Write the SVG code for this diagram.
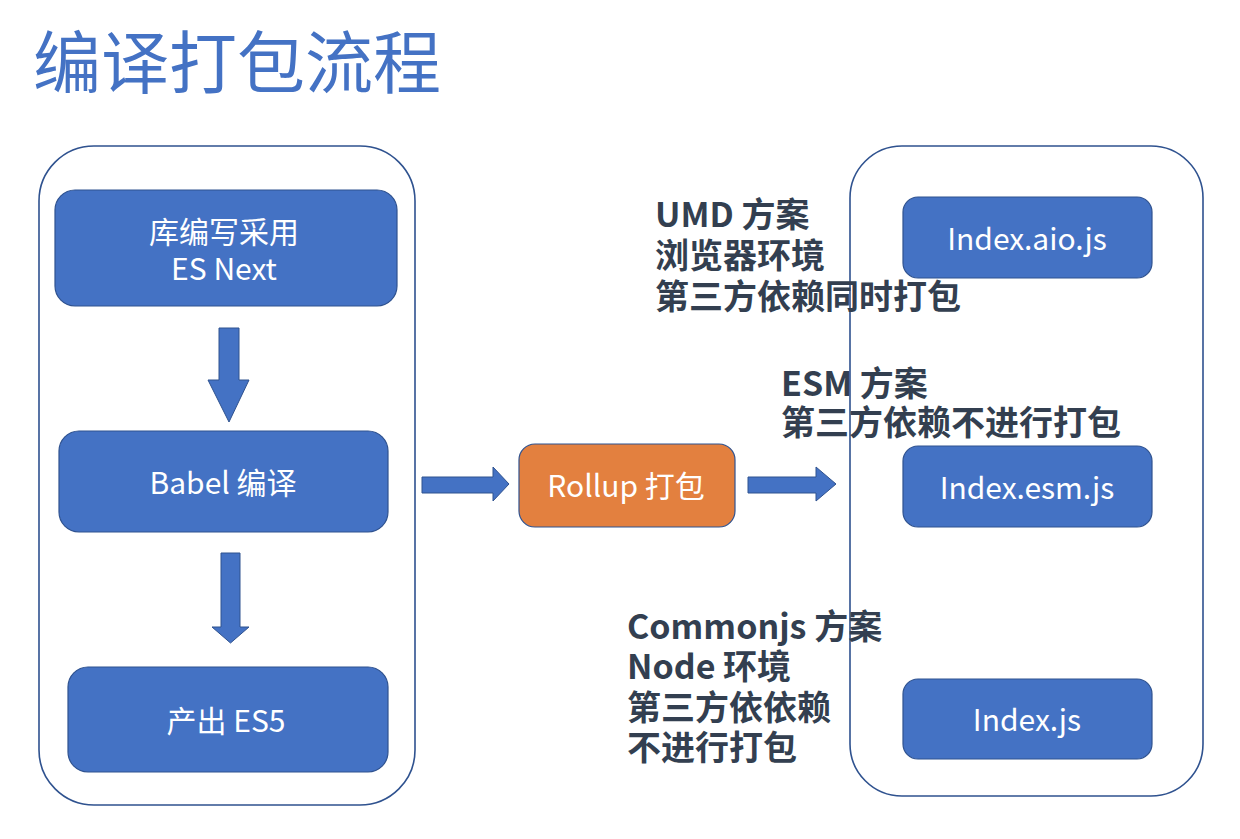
<svg xmlns="http://www.w3.org/2000/svg" width="1240" height="839" viewBox="0 0 1240 839">
  <style>
    .container { fill: #ffffff; stroke: #2F528F; stroke-width: 1.6; }
    .box { fill: #4472C4; stroke: #2F528F; stroke-width: 1.2; }
    .orange { fill: #E3803F; stroke: #2F528F; stroke-width: 1.2; }
    .arrow { fill: #4472C4; stroke: #2F528F; stroke-width: 1; }
    .btext { font-family: "Noto Sans CJK SC", "Noto Sans", sans-serif; font-size: 30px; fill: #ffffff; text-anchor: middle; dominant-baseline: central; }
    .label { font-family: "Noto Sans CJK SC", "Noto Sans", sans-serif; font-size: 34px; font-weight: bold; fill: #333F50; dominant-baseline: central; }
    .title { font-family: "Noto Sans CJK SC", sans-serif; font-size: 68px; fill: #4472C4; dominant-baseline: central; }
  </style>
  <rect width="1240" height="839" fill="#ffffff"/>
  <text class="title" x="33" y="58">编译打包流程</text>

  <g id="left-container"><rect class="container" x="39" y="146" width="376" height="659" rx="55"/></g>
  <g id="right-container"><rect class="container" x="850" y="146" width="353" height="650" rx="52"/></g>

  <g id="node-esnext">
    <rect class="box" x="55" y="190" width="342" height="116" rx="20"/>
    <text class="btext"><tspan x="224" y="230">库编写采用</tspan><tspan x="224" y="267">ES Next</tspan></text>
  </g>
  <g id="node-babel">
    <rect class="box" x="59" y="431" width="329" height="101" rx="20"/>
    <text class="btext" x="223" y="481">Babel 编译</text>
  </g>
  <g id="node-es5">
    <rect class="box" x="68" y="667" width="320" height="105" rx="20"/>
    <text class="btext" x="226" y="719">产出 ES5</text>
  </g>
  <g id="node-rollup">
    <rect class="orange" x="519" y="444" width="216" height="83" rx="16"/>
    <text class="btext" x="626" y="484">Rollup 打包</text>
  </g>
  <g id="node-aio">
    <rect class="box" x="903" y="197" width="249" height="81" rx="15"/>
    <text class="btext" x="1027" y="237">Index.aio.js</text>
  </g>
  <g id="node-esm">
    <rect class="box" x="903" y="446" width="249" height="81" rx="15"/>
    <text class="btext" x="1027" y="486">Index.esm.js</text>
  </g>
  <g id="node-cjs">
    <rect class="box" x="903" y="679" width="249" height="80" rx="15"/>
    <text class="btext" x="1027" y="718">Index.js</text>
  </g>

  <g id="connectors">
    <polygon class="arrow" points="219,328 239,328 239,380 249,380 229,422 208,380 219,380"/>
    <polygon class="arrow" points="221,553 240,553 240,627 249,627 230.5,643 212,627 221,627"/>
    <polygon class="arrow" points="422,477 493,477 493,467 509,484 493,501 493,493 422,493"/>
    <polygon class="arrow" points="748,477 816,477 816,467 836,484 816,501 816,493 748,493"/>
  </g>

  <g id="label-umd">
    <text class="label"><tspan x="655" y="212">UMD 方案</tspan><tspan x="655" y="253">浏览器环境</tspan><tspan x="655" y="294">第三方依赖同时打包</tspan></text>
  </g>
  <g id="label-esm">
    <text class="label"><tspan x="781" y="381">ESM 方案</tspan><tspan x="781" y="420">第三方依赖不进行打包</tspan></text>
  </g>
  <g id="label-cjs">
    <text class="label"><tspan x="627" y="624">Commonjs 方案</tspan><tspan x="627" y="664">Node 环境</tspan><tspan x="627" y="705">第三方依依赖</tspan><tspan x="627" y="745">不进行打包</tspan></text>
  </g>
</svg>
